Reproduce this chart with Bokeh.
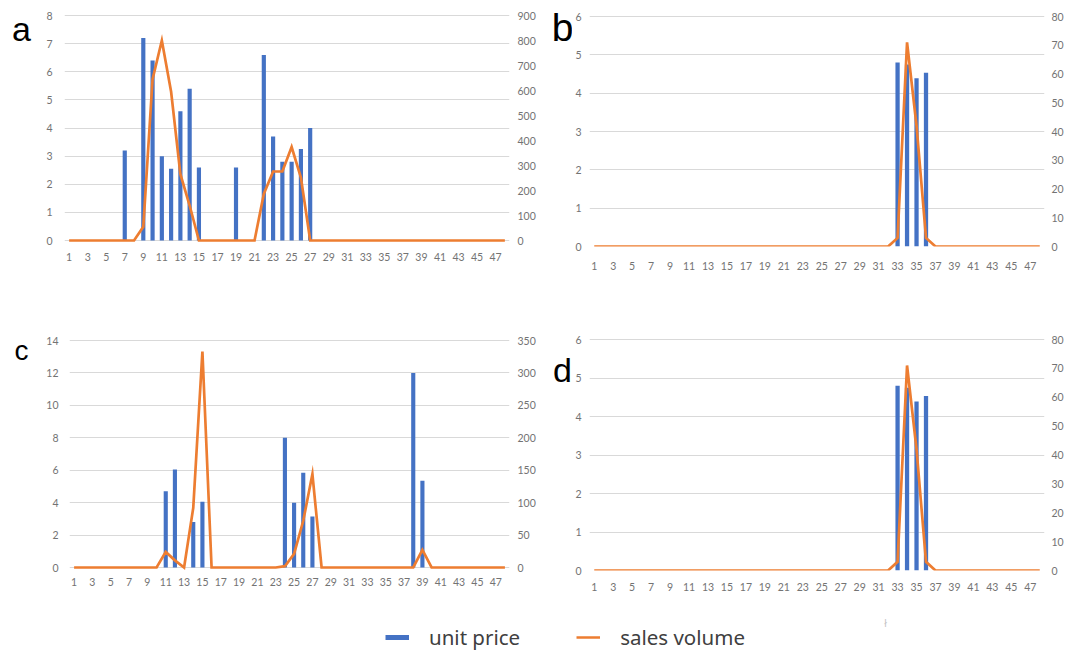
from bokeh.plotting import figure
from bokeh.models import Range1d, LinearAxis, FixedTicker, Label, Legend, LegendItem, ColumnDataSource
from bokeh.layouts import column, row
from bokeh.embed import file_html
from bokeh.resources import INLINE

# ---------------- data ----------------
days = list(range(1, 49))
x_ticks = days[::2]

a_price = [0, 0, 0, 0, 0, 0, 3.2, 0, 7.2, 6.4, 3.0, 2.55, 4.6, 5.4, 2.6, 0,
           0, 0, 2.6, 0, 0, 6.6, 3.7, 2.8, 2.8, 3.25, 4.0, 0, 0, 0, 0, 0,
           0, 0, 0, 0, 0, 0, 0, 0, 0, 0, 0, 0, 0, 0, 0, 0]
a_sales = [0, 0, 0, 0, 0, 0, 0, 0, 55, 645, 800, 595, 265, 140, 0, 0,
           0, 0, 0, 0, 0, 186, 276, 276, 374, 252, 0, 0, 0, 0, 0, 0,
           0, 0, 0, 0, 0, 0, 0, 0, 0, 0, 0, 0, 0, 0, 0, 0]

b_price = [0, 0, 0, 0, 0, 0, 0, 0, 0, 0, 0, 0, 0, 0, 0, 0,
           0, 0, 0, 0, 0, 0, 0, 0, 0, 0, 0, 0, 0, 0, 0, 0,
           4.8, 4.75, 4.39, 4.53, 0, 0, 0, 0, 0, 0, 0, 0, 0, 0, 0, 0]
b_sales = [0, 0, 0, 0, 0, 0, 0, 0, 0, 0, 0, 0, 0, 0, 0, 0,
           0, 0, 0, 0, 0, 0, 0, 0, 0, 0, 0, 0, 0, 0, 0, 0,
           3, 71, 42, 3, 0, 0, 0, 0, 0, 0, 0, 0, 0, 0, 0, 0]

c_price = [0, 0, 0, 0, 0, 0, 0, 0, 0, 0, 4.7, 6.05, 0, 2.8, 4.05, 0,
           0, 0, 0, 0, 0, 0, 0, 8.0, 4.0, 5.85, 3.15, 0, 0, 0, 0, 0,
           0, 0, 0, 0, 0, 12.0, 5.35, 0, 0, 0, 0, 0, 0, 0, 0, 0]
c_sales = [0, 0, 0, 0, 0, 0, 0, 0, 0, 0, 24, 11, 0, 92, 333, 0,
           0, 0, 0, 0, 0, 0, 0, 2, 21, 72, 144, 0, 0, 0, 0, 0,
           0, 0, 0, 0, 0, 0, 27, 0, 0, 0, 0, 0, 0, 0, 0, 0]

d_price = [0, 0, 0, 0, 0, 0, 0, 0, 0, 0, 0, 0, 0, 0, 0, 0,
           0, 0, 0, 0, 0, 0, 0, 0, 0, 0, 0, 0, 0, 0, 0, 0,
           4.8, 4.75, 4.39, 4.53, 0, 0, 0, 0, 0, 0, 0, 0, 0, 0, 0, 0]
d_sales = [0, 0, 0, 0, 0, 0, 0, 0, 0, 0, 0, 0, 0, 0, 0, 0,
           0, 0, 0, 0, 0, 0, 0, 0, 0, 0, 0, 0, 0, 0, 0, 0,
           3, 71, 42, 3, 0, 0, 0, 0, 0, 0, 0, 0, 0, 0, 0, 0]

a_left_ticks = [0, 1, 2, 3, 4, 5, 6, 7, 8]
a_right_ticks = [0, 100, 200, 300, 400, 500, 600, 700, 800, 900]
b_left_ticks = [0, 1, 2, 3, 4, 5, 6]
b_right_ticks = [0, 10, 20, 30, 40, 50, 60, 70, 80]
c_left_ticks = [0, 2, 4, 6, 8, 10, 12, 14]
c_right_ticks = [0, 50, 100, 150, 200, 250, 300, 350]
d_left_ticks = [0, 1, 2, 3, 4, 5, 6]
d_right_ticks = [0, 10, 20, 30, 40, 50, 60, 70, 80]

panel_letters = ["a", "b", "c", "d"]
series_names = ["unit price", "sales volume"]

# ---------------- style ----------------
BLUE = "#4472C4"
ORANGE = "#ED7D31"
GRID = "#d9d9d9"
TICK = "#737373"
TICK_FONT = "Lato"
TICK_SIZE = "10.5px"


def style_axis(ax, standoff):
    ax.axis_line_color = None
    ax.major_tick_line_color = None
    ax.minor_tick_line_color = None
    ax.major_tick_in = 0
    ax.major_tick_out = 0
    ax.major_label_standoff = standoff
    ax.major_label_text_font = TICK_FONT
    ax.major_label_text_font_size = TICK_SIZE
    ax.major_label_text_color = TICK


def extent(ticks, frame, anchors):
    """Axis range so that ticks[-1] sits at anchors[0] px and ticks[0] at anchors[1] px
    inside a frame that spans frame[0]..frame[1] px (page y)."""
    top_px, zero_px = anchors
    per_px = (ticks[-1] - ticks[0]) / (zero_px - top_px)
    lo = ticks[0] - (frame[1] - zero_px) * per_px
    hi = ticks[-1] + (top_px - frame[0]) * per_px
    return lo, hi


def panel(page_x, width, frame_x, row_y, height, frame_y, anchors,
          price, sales, lticks, rticks, stand):
    bl = frame_x[0] - page_x
    br = page_x + width - frame_x[1]
    bt = frame_y[0] - row_y
    bb = row_y + height - frame_y[1]
    p = figure(width=width, height=height, output_backend="svg",
               toolbar_location=None,
               x_range=Range1d(0.5, 48.5),
               y_range=Range1d(*extent(lticks, frame_y, anchors)),
               min_border=0, min_border_left=bl, min_border_right=br,
               min_border_top=bt, min_border_bottom=bb)
    p.extra_y_ranges = {"right": Range1d(*extent(rticks, frame_y, anchors))}
    p.outline_line_color = None
    p.background_fill_color = "white"
    p.border_fill_color = "white"
    p.xgrid.visible = False
    p.ygrid.ticker = FixedTicker(ticks=lticks)
    p.ygrid.grid_line_color = GRID
    p.ygrid.grid_line_width = 1

    p.xaxis.ticker = FixedTicker(ticks=x_ticks)
    p.yaxis.ticker = FixedTicker(ticks=lticks)
    style_axis(p.xaxis[0], stand[0])
    style_axis(p.yaxis[0], stand[1])
    ra = LinearAxis(y_range_name="right", ticker=FixedTicker(ticks=rticks))
    style_axis(ra, stand[2])
    p.add_layout(ra, "right")

    p.vbar(x=days, top=price, width=0.45, fill_color=BLUE, line_color=None)
    p.line(x=days, y=sales, y_range_name="right", line_color=ORANGE,
           line_width=2.7, line_join="miter")
    return p


def letter_fig(page_x, width, row_y, height, frame_y, letter, cx, baseline, size):
    # frame shares the row's top/bottom borders; ranges are page pixels
    f = figure(width=width, height=height, output_backend="svg",
               toolbar_location=None,
               x_range=Range1d(page_x, page_x + width),
               y_range=Range1d(frame_y[1], frame_y[0]),
               min_border=0, min_border_top=frame_y[0] - row_y,
               min_border_bottom=row_y + height - frame_y[1])
    f.outline_line_color = None
    f.xaxis.visible = False
    f.yaxis.visible = False
    f.grid.visible = False
    f.add_layout(Label(x=cx, y=baseline, text=letter, text_align="center",
                       text_baseline="alphabetic", text_font="Liberation Sans",
                       text_font_size=size, text_color="black"))
    return f


TOP_Y, TOP_H, TOP_FRAME = 0, 325, (10, 246)
BOT_Y, BOT_H, BOT_FRAME = 325, 292, (335, 570)

la = letter_fig(0, 36, TOP_Y, TOP_H, TOP_FRAME, panel_letters[0], 21, 28, "34px")
pa = panel(36, 502, (64, 510), TOP_Y, TOP_H, TOP_FRAME, (15, 240),
           a_price, a_sales, a_left_ticks, a_right_ticks, (6, 12, 8))
lb = letter_fig(538, 34, TOP_Y, TOP_H, TOP_FRAME, panel_letters[1], 562, 27, "39px")
pb = panel(572, 505, (589, 1044), TOP_Y, TOP_H, TOP_FRAME, (16, 246),
           b_price, b_sales, b_left_ticks, b_right_ticks, (15, 8, 7))

lc = letter_fig(0, 36, BOT_Y, BOT_H, BOT_FRAME, panel_letters[2], 21, 350, "28px")
pc = panel(36, 502, (69, 510), BOT_Y, BOT_H, BOT_FRAME, (340, 567),
           c_price, c_sales, c_left_ticks, c_right_ticks, (7, 11, 8))
ld = letter_fig(538, 34, BOT_Y, BOT_H, BOT_FRAME, panel_letters[3], 562, 369, "34px")
pd = panel(572, 505, (589, 1044), BOT_Y, BOT_H, BOT_FRAME, (339, 570),
           d_price, d_sales, d_left_ticks, d_right_ticks, (12, 8, 7))

# legend strip: page y 617..654, ranges are page pixels
LW, LY0, LY1 = 1077, 617, 654
pl = figure(width=LW, height=LY1 - LY0, output_backend="svg", toolbar_location=None,
            x_range=Range1d(0, LW), y_range=Range1d(LY1, LY0), min_border=0)
pl.outline_line_color = None
pl.xaxis.visible = False
pl.yaxis.visible = False
pl.grid.visible = False
# legend proxies: a single missing point, so nothing is drawn in the strip itself
proxy = ColumnDataSource(data=dict(x=[float("nan")], y=[float("nan")]))
r_bar = pl.line(x="x", y="y", source=proxy, line_color=BLUE, line_width=5)
r_line = pl.line(x="x", y="y", source=proxy, line_color=ORANGE, line_width=2.5)
legend = Legend(items=[LegendItem(label=series_names[0], renderers=[r_bar]),
                       LegendItem(label=series_names[1], renderers=[r_line])],
                orientation="horizontal", location=(385, 3),
                glyph_width=24, glyph_height=22, label_height=22,
                label_standoff=20, spacing=56, padding=0, margin=0,
                border_line_color=None, background_fill_alpha=0,
                label_text_font="Noto Sans", label_text_font_size="20.5px",
                label_text_color="#404040")
pl.add_layout(legend)
pl.add_layout(Label(x=885, y=622, text="ł", text_align="center",
                    text_baseline="middle", text_font="Noto Sans",
                    text_font_size="10px", text_color="#c4c4c4"))

layout = column(row(la, pa, lb, pb), row(lc, pc, ld, pd), pl)
open("out.html", "w").write(file_html(layout, INLINE))
